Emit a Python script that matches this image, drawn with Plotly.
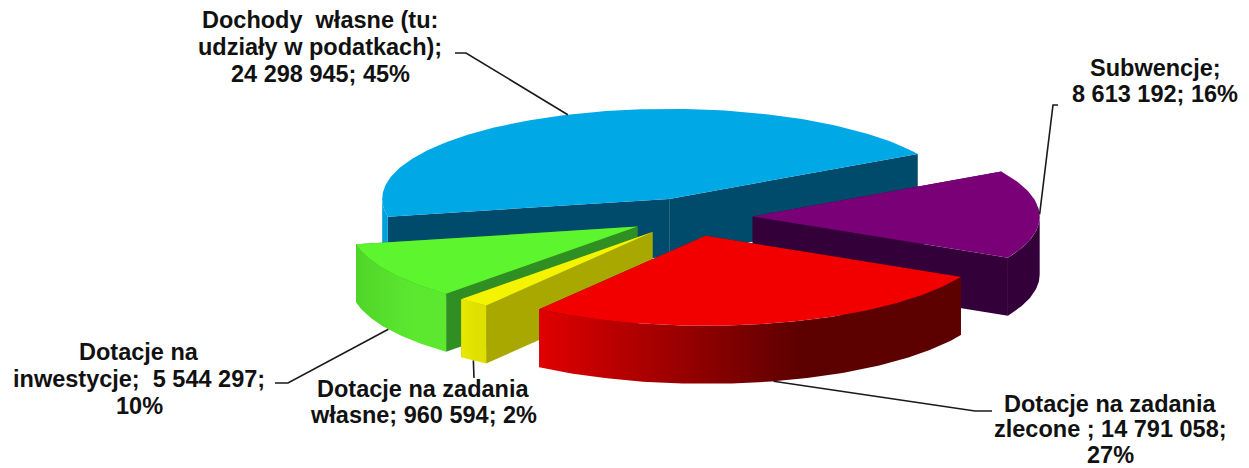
import math
import plotly.graph_objects as go

# data, clockwise from the first-slice angle
names = ["Subwencje", "Dotacje na zadania zlecone", "Dotacje na zadania własne",
         "Dotacje na inwestycje", "Dochody własne (tu: udziały w podatkach)"]
values = [8613192, 14791058, 960594, 5544297, 24298945]
label_text = [
    ["Subwencje;", "8 613 192; 16%"],
    ["Dotacje na zadania", "zlecone ; 14 791 058;", "27%"],
    ["Dotacje na zadania", "własne; 960 594; 2%"],
    ["Dotacje na", "inwestycje;  5 544 297;", "10%"],
    ["Dochody  własne (tu:", "udziały w podatkach);", "24 298 945; 45%"],
]
top_colors = ["#7a0078", "#f20000", "#f4f400", "#5cf52e", "#00a8e6"]
wall_colors = ["#33003a", "#700000", "#a8a800", "#2f8f22", "#004a6b"]
rim_left = ["#33003a", "#e00000", "#e8e800", "#4fd52a", "#00a0dc"]
rim_right = ["#33003a", "#5c0000", "#e0e000", "#5ce82e", "#00a0dc"]

# chart geometry
CX, CY, RX, RY, DEPTH, EXPLODE, START = 691, 217, 287, 90, 58, 0.215, 60
label_pos = [(1155, 81), (1110, 429), (423, 402), (139, 379), (320, 47)]
LINE_GAPS = [26.6, 25.5, 26.6, 26.6, 26.6]
elbows = [[(1058, 105), (1053, 105)], [(992, 411), (975, 411)], [(474, 378)],
          [(275, 383), (288, 383)], [(455, 53), (466, 53)]]
draw_order = [4, 0, 3, 2, 1]

total = sum(values)
spans = []
a = START
for v in values:
    spans.append((a, a + 360 * v / total))
    a += 360 * v / total


def pt(ax, ay, deg, dz=0):
    r = math.radians(deg)
    return ax + RX * math.sin(r), ay - RY * math.cos(r) + dz


def arc(ax, ay, a0, a1, dz=0):
    n = max(2, int(abs(a1 - a0)) + 1)
    return [pt(ax, ay, a0 + (a1 - a0) * i / n, dz) for i in range(n + 1)]


def poly(points, color=None, gradient=None):
    xs = [p[0] for p in points] + [points[0][0]]
    ys = [p[1] for p in points] + [points[0][1]]
    kw = dict(fillgradient=gradient) if gradient else dict(fillcolor=color)
    return go.Scatter(x=xs, y=ys, mode="lines", fill="toself", line=dict(width=0),
                      hoverinfo="skip", showlegend=False, **kw)


fig = go.Figure()
apex = {}
for i in draw_order:
    a0, a1 = spans[i]
    mid = math.radians((a0 + a1) / 2)
    ax = CX + EXPLODE * RX * math.sin(mid)
    ay = CY - EXPLODE * RY * math.cos(mid)
    apex[i] = (ax, ay)
    for edge in (a0, a1):
        e = pt(ax, ay, edge)
        fig.add_trace(poly([(ax, ay), e, (e[0], e[1] + DEPTH), (ax, ay + DEPTH)], wall_colors[i]))
    lo, hi = max(a0, 90), min(a1, 270)
    if hi > lo:
        rim = arc(ax, ay, lo, hi) + arc(ax, ay, hi, lo, DEPTH)
        if rim_left[i] == rim_right[i]:
            fig.add_trace(poly(rim, rim_left[i]))
        else:
            grad = dict(type="horizontal",
                        colorscale=[[0, rim_left[i]], [0.62, rim_right[i]], [1, rim_right[i]]])
            fig.add_trace(poly(rim, gradient=grad))
    fig.add_trace(poly([(ax, ay)] + arc(ax, ay, a0, a1), top_colors[i]))

for i, (a0, a1) in enumerate(spans):
    m = (a0 + a1) / 2
    ax, ay = apex[i]
    dz = DEPTH if 90 < (m % 360) < 270 else 0
    p = pt(ax, ay, m, dz)
    route = elbows[i] + [p]
    fig.add_trace(go.Scatter(x=[q[0] for q in route], y=[q[1] for q in route], mode="lines",
                             line=dict(color="#1a1a1a", width=1.6), hoverinfo="skip",
                             showlegend=False))
    lines = label_text[i]
    for k, line in enumerate(lines):
        fig.add_annotation(x=label_pos[i][0],
                           y=label_pos[i][1] + (k - (len(lines) - 1) / 2) * LINE_GAPS[i],
                           text="<b>" + line + "</b>", showarrow=False, align="center",
                           xanchor="center", yanchor="middle",
                           font=dict(family="Liberation Sans", size=23.5, color="#111111"))

fig.update_layout(width=1249, height=468, margin=dict(l=0, r=0, t=0, b=0),
                  paper_bgcolor="white", plot_bgcolor="white",
                  xaxis=dict(range=[0, 1249], visible=False, fixedrange=True),
                  yaxis=dict(range=[468, 0], visible=False, fixedrange=True))
fig.write_html("out.html", config=dict(displayModeBar=False),
               post_script="document.body.style.margin='0';document.body.style.overflow='hidden';")
